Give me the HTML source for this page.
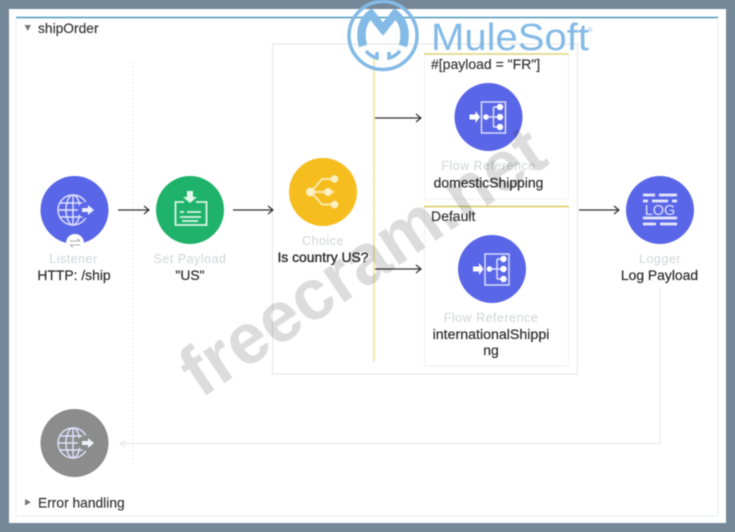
<!DOCTYPE html>
<html><head><meta charset="utf-8"><style>
html,body{margin:0;padding:0;width:735px;height:532px;overflow:hidden;background:#75889a}
svg{display:block;position:absolute;left:0;top:0;filter:blur(.45px)}
text{font-family:"Liberation Sans",sans-serif}
.g{fill:#d2d4d6;font-size:12.5px;text-anchor:middle;letter-spacing:.5px}
.b{fill:#2c2c2c;font-size:13.9px;text-anchor:middle;stroke:#2c2c2c;stroke-width:.2}
.l{fill:#333;font-size:13.8px;stroke:#333;stroke-width:.15}
.ic{fill:none;stroke:#dfe3fb;stroke-width:1.4}
.a{fill:none;stroke:#333;stroke-width:1.2}
.wm{mix-blend-mode:multiply}
</style></head><body>
<svg width="735" height="532" viewBox="0 0 735 532">
<defs>
<g id="globe"><circle cx="0" cy="0" r="15" class="ic"/><ellipse cx="0" cy="0" rx="7" ry="15" class="ic"/><path d="M-15 0H15M-13 -7H13M-13 7H13M0 -15V15" class="ic"/><circle cx="13" cy="0" r="8" fill="currentColor"/><path d="M9 -2H15V-5L21 0 15 5V2H9Z" fill="#eef0fd"/></g>
<g id="fref"><rect x="-7" y="-15" width="24" height="31" class="ic" stroke-width="1"/><path d="M-19 -2.500H-13V-6L-8.500 0-13 6V2.500H-19Z" fill="#fff"/><circle cx="-2.500" cy="0" r="2.800" fill="#fff"/><path d="M-2 0H11M5 -10V10M5 -10H11M5 10H11" class="ic"/><circle cx="11.500" cy="-10" r="3.200" fill="#fff"/><circle cx="11.500" cy="0" r="3.200" fill="#fff"/><circle cx="11.500" cy="10" r="3.200" fill="#fff"/></g>
</defs>

<rect x="9" y="9" width="717" height="514" fill="#fff"/>
<rect x="16" y="18" width="702" height="498" fill="none" stroke="#eceeef"/>
<path d="M16 17.500H718" stroke="#4f9dbd" stroke-width="1.600"/>

<path d="M24.500 25H31L27.750 31Z" fill="#777"/>
<text x="38" y="33" class="l">shipOrder</text>
<path d="M25 499V505.500L31 502.250Z" fill="#777"/>
<text x="38" y="507.500" class="l">Error handling</text>

<path d="M133 62V466" stroke="#e8e8e8" stroke-dasharray="2 2"/>

<rect x="272.500" y="44" width="305" height="330" fill="#fff" stroke="#e3e4e4"/>
<path d="M374 58V362" stroke="#eee3a0" stroke-width="1.600"/>

<rect x="424.500" y="54" width="144" height="145" fill="#fff" stroke="#eef1f6"/>
<path d="M424 54H569" stroke="#e3dc96" stroke-width="2"/>
<rect x="424.500" y="206" width="144" height="160" fill="#fff" stroke="#eef1f6"/>
<path d="M424 206.500H569" stroke="#dfd67f" stroke-width="2"/>

<!-- arrows -->
<g class="a">
<path d="M118 210H148M144 206L149 210 144 214"/>
<path d="M233 210H272M268 206L273 210 268 214"/>
<path d="M375 118H420M416 114L421 118 416 122"/>
<path d="M375 269H420M416 265L421 269 416 273"/>
<path d="M579 210H618M614 206L619 210 614 214"/>
</g>
<path d="M660 287V443.500H121M126 440L120 443.500 126 447" fill="none" stroke="#e9e9e9" stroke-width="1.200"/>

<!-- listener -->
<g color="#5a66e8"><circle cx="74.500" cy="210" r="34" fill="#5a66e8"/><use href="#globe" x="73" y="210"/></g>
<circle cx="75" cy="243" r="9" fill="#fff"/>
<path d="M70 241H80M77 238.500L80 241M80 245H70M73 247.500L70 245" stroke="#aaa" fill="none"/>
<text x="73.500" y="263" class="g">Listener</text>
<text x="74" y="280" class="b">HTTP: /ship</text>

<!-- set payload -->
<circle cx="190" cy="210" r="34" fill="#1fb26a"/>
<g fill="none" stroke="#d8f5e4" stroke-width="1.800"><path d="M184 202H175.500V225H206.500V202H196"/><path d="M180 212H184M187 212H201M180 217H201M182 221H198"/></g>
<path d="M187 191H193V197H197L190 203 183 197H187Z" fill="#e6f9ee"/>
<text x="190" y="263" class="g">Set Payload</text>
<text x="190" y="280" class="b">"US"</text>

<!-- choice -->
<circle cx="323" cy="192" r="34" fill="#f6bd1f"/>
<g fill="none" stroke="#fde9ae" stroke-width="1.900"><path d="M311 192L322 179H334M311 192H334M311 192L322 204.500H334" /></g>
<g fill="#fdf0c4"><circle cx="310.500" cy="192" r="4.500"/><circle cx="328" cy="192" r="4"/><circle cx="334.500" cy="179" r="3.800"/><circle cx="334.500" cy="204.500" r="3.800"/></g>
<text x="323" y="245" class="g">Choice</text>
<text x="323" y="262" class="b" style="stroke-width:.35">Is country US?</text>

<!-- flow refs -->
<text x="431" y="69" class="l" style="font-size:14px">#[payload = "FR"]</text>
<circle cx="488.500" cy="117" r="34" fill="#5a66e8"/><use href="#fref" x="488.500" y="117"/>
<text x="488.500" y="170" class="g">Flow Reference</text>
<text x="488.500" y="187.500" class="b">domesticShipping</text>

<text x="431" y="221" class="l" style="font-size:14px">Default</text>
<circle cx="492" cy="269" r="34" fill="#5a66e8"/><use href="#fref" x="492" y="269"/>
<text x="491" y="322" class="g">Flow Reference</text>
<text x="491" y="339" class="b" style="font-size:14.200px">internationalShippi</text>
<text x="491" y="355" class="b">ng</text>

<!-- logger -->
<circle cx="660" cy="210" r="34" fill="#5a66e8"/>
<g stroke="#e6e8fc" stroke-width="2.800" fill="none"><path d="M643 195H655M659 195H677M643 201H648M652 201H668M672 201H677M643 218H677M643 224H656M660 224H677"/></g>
<text x="660" y="215" fill="#dfe3fb" font-size="14.500" text-anchor="middle">LOG</text>
<text x="660" y="263" class="g">Logger</text>
<text x="659.500" y="280" class="b">Log Payload</text>

<!-- error handler -->
<g color="#8c8c8c"><circle cx="74.500" cy="443" r="34" fill="#8c8c8c"/><use href="#globe" x="73" y="443"/></g>

<!-- watermark -->
<text class="wm" transform="translate(201 399) rotate(-34)" font-size="72" font-weight="bold" fill="#dcdcdc" textLength="422" lengthAdjust="spacingAndGlyphs">freecram.net</text>

<!-- logo -->
<g fill="none" stroke="#84bae6">
<circle cx="383" cy="35.500" r="34" stroke-width="3.500"/>
<path d="M363 46C359 31 363 20 371 14L383 29 395 14C403 20 407 31 403 46" stroke-width="8.500"/>
<path d="M366 51A22 22 0 0 0 377 58V52M400 51A22 22 0 0 1 389 58V52" stroke-width="3.500"/>
</g>
<text x="431" y="50" fill="#84bae6" font-size="38" textLength="158" lengthAdjust="spacingAndGlyphs">MuleSoft</text>
<text x="588" y="32" fill="#84bae6" font-size="6">®</text>
</svg>
</body></html>
